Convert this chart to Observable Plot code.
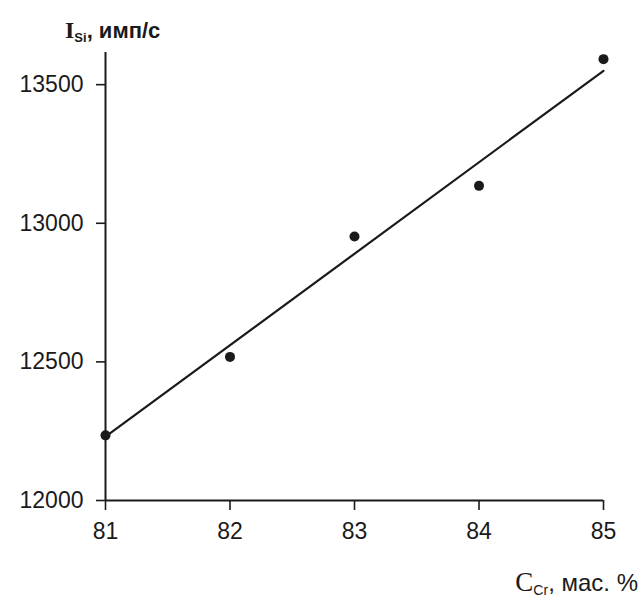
<!DOCTYPE html>
<html><head><meta charset="utf-8">
<script src="https://cdn.jsdelivr.net/npm/d3@7"></script>
<script src="https://cdn.jsdelivr.net/npm/@observablehq/plot@0.6"></script>
<style>body{margin:0;background:#fff}</style>
</head><body><div id="chart"></div>
<script>
const concentration = [81, 82, 83, 84, 85];
const intensity = [12235, 12518, 12952, 13135, 13592];
const fitX = [81, 85];
const fitY = [12230, 13550];
const xTicks = [81, 82, 83, 84, 85];
const yTicks = [12000, 12500, 13000, 13500];

const pts = concentration.map((c, i) => ({x: c, y: intensity[i]}));
const fit = fitX.map((c, i) => ({x: c, y: fitY[i]}));
const ink = "#1a1a1a";

const chart = Plot.plot({
  width: 641, height: 601,
  marginLeft: 105, marginRight: 38, marginTop: 52, marginBottom: 101,
  style: {fontFamily: "'Liberation Sans', Arial, sans-serif", color: ink, background: "#fff"},
  x: {domain: [81, 85]},
  y: {domain: [12000, 13616]},
  marks: [
    Plot.axisX({ticks: xTicks, tickSize: 10, tickPadding: 12, fontSize: 23, tickFormat: d => String(d), label: null, strokeWidth: 1.6}),
    Plot.axisY({ticks: yTicks, tickSize: 9, tickPadding: 13, fontSize: 23, tickFormat: d => String(d), label: null, strokeWidth: 1.6}),
    Plot.ruleY([12000], {stroke: ink, strokeWidth: 2}),
    Plot.ruleX([81], {stroke: ink, strokeWidth: 2}),
    Plot.line(fit, {x: "x", y: "y", stroke: ink, strokeWidth: 2.2}),
    Plot.dot(pts, {x: "x", y: "y", r: 5, fill: ink, stroke: "none"})
  ]
});
document.getElementById("chart").appendChild(chart);

const svg = d3.select(chart);
const t1 = svg.append("text").attr("x", 65).attr("y", 38).attr("text-anchor", "start").attr("fill", ink);
t1.append("tspan").attr("font-family", "'Liberation Serif', serif").attr("font-weight", "bold").attr("font-size", 24).text("I");
t1.append("tspan").attr("font-size", 13).attr("dy", 4).attr("font-weight", "bold").text("Si");
t1.append("tspan").attr("font-size", 22).attr("dy", -4).attr("font-weight", "bold").text(", имп/с");

const t2 = svg.append("text").attr("x", 638).attr("y", 591).attr("text-anchor", "end").attr("fill", ink);
t2.append("tspan").attr("font-family", "'Liberation Serif', serif").attr("font-size", 27).text("C");
t2.append("tspan").attr("font-size", 14).attr("dy", 4).text("Cr");
t2.append("tspan").attr("font-size", 24).attr("dy", -4).text(", мас. %");
</script>
</body></html>
